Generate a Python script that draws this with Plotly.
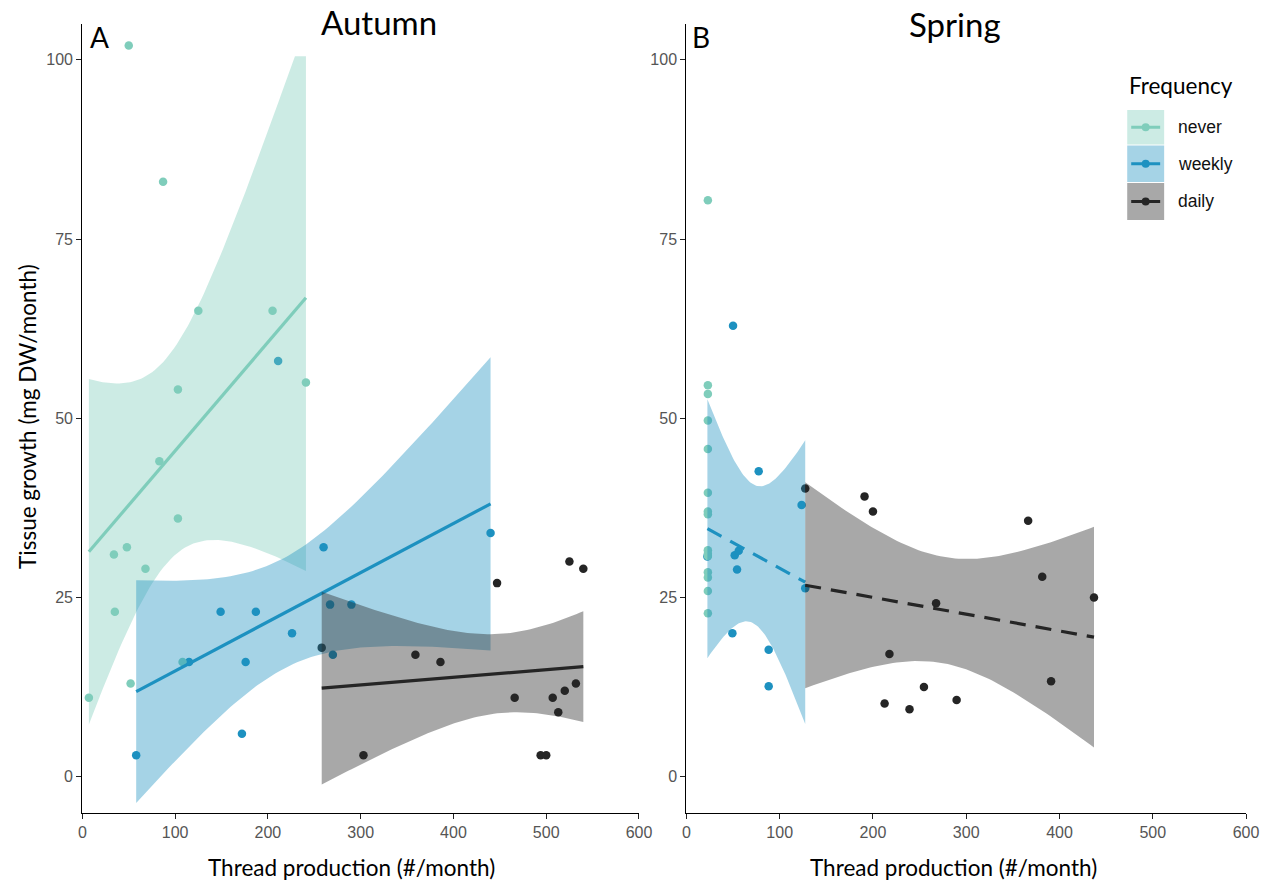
import numpy as np
import plotly.graph_objects as go
from math import lgamma, exp, pi, sqrt

# ---------------- data ----------------
groups = ["never", "weekly", "daily"]
colors = {"never": "#7fcdbb", "weekly": "#1d91c0", "daily": "#252525"}
fills = {"never": "rgba(127,205,187,0.4)", "weekly": "rgba(29,145,192,0.4)", "daily": "rgba(37,37,37,0.4)"}

aut_never_x = [7, 34, 35, 48, 50, 52, 68, 83, 87, 103, 103, 108, 125, 205, 241]
aut_never_y = [11, 31, 23, 32, 102, 13, 29, 44, 83, 54, 36, 16, 65, 65, 55]
aut_weekly_x = [58, 115, 149, 172, 176, 187, 211, 226, 260, 267, 270, 290, 440]
aut_weekly_y = [3, 16, 23, 6, 16, 23, 58, 20, 32, 24, 17, 24, 34]
aut_daily_x = [258, 303, 359, 386, 447, 466, 494, 500, 507, 513, 520, 525, 532, 540]
aut_daily_y = [18, 3, 17, 16, 27, 11, 3, 3, 11, 9, 12, 30, 13, 29]

spr_never_x = [23] * 15
spr_never_y = [80.4, 54.6, 53.4, 49.7, 45.7, 39.6, 37.0, 36.6, 31.6, 31.1, 30.8, 28.5, 27.8, 25.9, 22.8]
spr_weekly_x = [22.5, 49.3, 50.0, 51.8, 54.3, 56.1, 77.5, 88.2, 88.2, 123.5, 127.4]
spr_weekly_y = [30.7, 20.0, 62.9, 30.9, 28.9, 31.5, 42.6, 17.7, 12.6, 37.9, 26.3]
spr_daily_x = [127.4, 191, 200, 212.5, 217.7, 239.2, 254.7, 267.7, 289.7, 366.4, 381.5, 391, 437]
spr_daily_y = [40.2, 39.1, 37.0, 10.2, 17.1, 9.4, 12.5, 24.2, 10.7, 35.7, 27.9, 13.3, 25.0]

x_ticks = [0, 100, 200, 300, 400, 500, 600]
y_ticks = [0, 25, 50, 75, 100]
band_ceiling = 100.5  # ribbon clipped at top in the original

panels = {
    "Autumn": {"never": (aut_never_x, aut_never_y), "weekly": (aut_weekly_x, aut_weekly_y),
               "daily": (aut_daily_x, aut_daily_y), "dash": "solid"},
    "Spring": {"never": (spr_never_x, spr_never_y), "weekly": (spr_weekly_x, spr_weekly_y),
               "daily": (spr_daily_x, spr_daily_y), "dash": "16px,10px"},
}


def t_crit(df, p=0.975):
    c = exp(lgamma((df + 1) / 2) - lgamma(df / 2)) / sqrt(df * pi)

    def cdf(t):
        g = np.linspace(0, t, 4001)
        return 0.5 + np.trapezoid(c * (1 + g ** 2 / df) ** (-(df + 1) / 2), g)

    lo, hi = 0.0, 20.0
    for _ in range(60):
        mid = (lo + hi) / 2
        if cdf(mid) < p:
            lo = mid
        else:
            hi = mid
    return (lo + hi) / 2


def lm_band(x, y, n=80):
    x = np.asarray(x, float)
    y = np.asarray(y, float)
    if np.ptp(x) == 0:
        return None
    b, a = np.polyfit(x, y, 1)
    xs = np.linspace(x.min(), x.max(), n)
    fit = a + b * xs
    resid = y - (a + b * x)
    df = len(x) - 2
    s = sqrt(np.sum(resid ** 2) / df)
    sxx = np.sum((x - x.mean()) ** 2)
    se = s * np.sqrt(1 / len(x) + (xs - x.mean()) ** 2 / sxx)
    t = t_crit(df)
    return xs, fit, fit - t * se, np.minimum(fit + t * se, band_ceiling)


fig = go.Figure()
W, H = 1270, 884
W_EFF = 1255  # horizontal extent the page actually lays the figure out at


def px(v):
    return v / W_EFF


def py(v):
    return 1 - v / H


for i, (season, pdata) in enumerate(panels.items()):
    xa = "x" if i == 0 else "x2"
    ya = "y" if i == 0 else "y2"
    # points first (under the smooths)
    for g in ["weekly", "never", "daily"]:
        gx, gy = pdata[g]
        fig.add_trace(go.Scatter(x=gx, y=gy, mode="markers", xaxis=xa, yaxis=ya,
                                 marker=dict(size=8.5, color=colors[g]), showlegend=False,
                                 hoverinfo="skip"))
    for g in groups:
        gx, gy = pdata[g]
        res = lm_band(gx, gy)
        if res is None:
            continue
        xs, fit, lo, hi = res
        fig.add_trace(go.Scatter(x=np.concatenate([xs, xs[::-1]]), y=np.concatenate([hi, lo[::-1]]),
                                 mode="lines", fill="toself", fillcolor=fills[g], line=dict(width=0),
                                 xaxis=xa, yaxis=ya, showlegend=False, hoverinfo="skip"))
        fig.add_trace(go.Scatter(x=xs, y=fit, mode="lines", xaxis=xa, yaxis=ya,
                                 line=dict(color=colors[g], width=3.2, dash=pdata["dash"]),
                                 showlegend=False, hoverinfo="skip"))

axis_common = dict(showgrid=False, zeroline=False, showline=True, linecolor="#000000", linewidth=1.3,
                   ticks="outside", ticklen=5, tickwidth=1.2, tickcolor="#222222",
                   tickfont=dict(family="Liberation Sans, Arial, sans-serif", size=16, color="#555555"))

ydom = [py(812.5), py(24)]
fig.update_layout(
    width=W, height=H, autosize=False, margin=dict(l=0, r=0, t=0, b=0),
    paper_bgcolor="white", plot_bgcolor="white", showlegend=False,
    xaxis=dict(domain=[px(78.5), px(636)], range=[0, 600], tickvals=x_ticks, anchor="y", **axis_common),
    yaxis=dict(domain=ydom, range=[-5, 105], tickvals=y_ticks, anchor="x", **axis_common),
    xaxis2=dict(domain=[px(683.5), px(1244)], range=[0, 600], tickvals=x_ticks, anchor="y2", **axis_common),
    yaxis2=dict(domain=ydom, range=[-5, 105], tickvals=y_ticks, anchor="x2", **axis_common),
)

title_font = dict(family="Lato, Open Sans, sans-serif", size=33, color="#000000")
ax_font = dict(family="Lato, sans-serif", size=22.5, color="#000000")
ann = [
    dict(text="Autumn", x=px(376), y=py(22), font=title_font),
    dict(text="Spring", x=px(953), y=py(24), font=title_font),
    dict(text="A", x=px(96), y=py(37), font=dict(family="Lato, sans-serif", size=28, color="#000000")),
    dict(text="B", x=px(698), y=py(37), font=dict(family="Lato, sans-serif", size=28, color="#000000")),
    dict(text="Thread production (#/month)", x=px(348), y=py(867), font=ax_font),
    dict(text="Thread production (#/month)", x=px(951), y=py(867), font=ax_font),
    dict(text="Tissue growth (mg DW/month)", x=px(23), y=py(416), textangle=-90, font=ax_font),
    dict(text="Frequency", x=px(1125), y=py(86), xanchor="left",
         font=dict(family="Lato, sans-serif", size=22.5, color="#000000")),
]

# legend (drawn manually: filled key box + line + dot)
key_rows = [(110, 144.5), (145.5, 182), (183, 220)]
shapes = []
for g, (y0, y1) in zip(groups, key_rows):
    yc = (y0 + y1) / 2
    shapes.append(dict(type="rect", xref="paper", yref="paper", x0=px(1125), x1=px(1162),
                       y0=py(y1), y1=py(y0), fillcolor=fills[g], line=dict(width=0)))
    shapes.append(dict(type="line", xref="paper", yref="paper", x0=px(1129), x1=px(1158),
                       y0=py(yc), y1=py(yc), line=dict(color=colors[g], width=3)))
    shapes.append(dict(type="circle", xref="paper", yref="paper", x0=px(1139.5), x1=px(1147.5),
                       y0=py(yc + 4), y1=py(yc - 4), fillcolor=colors[g], line=dict(width=0)))
    ann.append(dict(text=g, x=px(1174), y=py(yc), xanchor="left",
                    font=dict(family="Liberation Sans, Arial, sans-serif", size=17.5, color="#111111")))

for a in ann:
    a.setdefault("xanchor", "center")
    a.update(xref="paper", yref="paper", yanchor="middle", showarrow=False)
fig.update_layout(annotations=ann, shapes=shapes)

post = ("document.body.style.margin='0';document.body.style.overflow='hidden';"
        "document.documentElement.style.overflow='hidden';"
        "var gd=document.getElementById('{plot_id}');"
        "Plotly.relayout(gd,{width:1270,height:884});")
fig.write_html("out.html", config={"displayModeBar": False, "responsive": False}, post_script=post)
